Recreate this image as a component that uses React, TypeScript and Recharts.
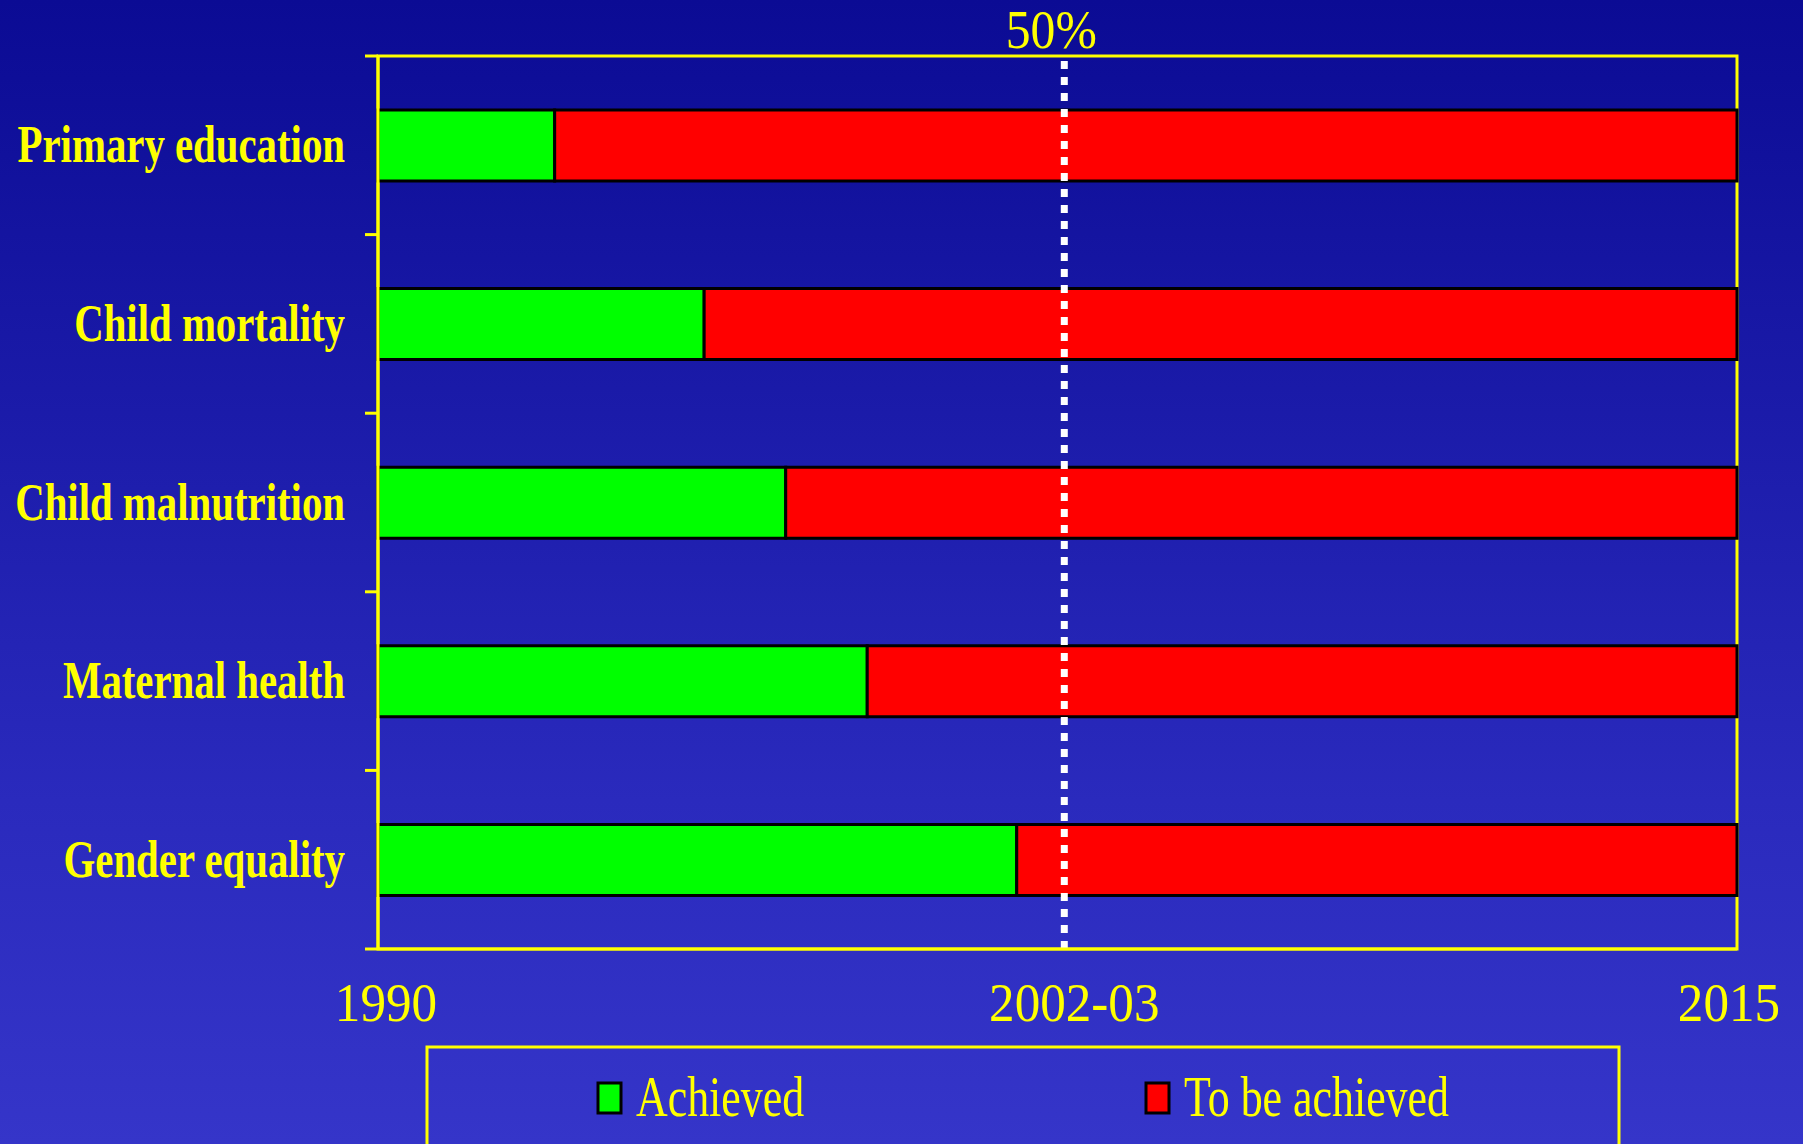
import React from 'react';
import { BarChart, Bar, XAxis, YAxis, ReferenceLine, ReferenceArea } from 'recharts';

const goals = ['Primary education', 'Child mortality', 'Child malnutrition', 'Maternal health', 'Gender equality'];
const achieved = [13, 24, 30, 36, 47];
const toBeAchieved = [87, 76, 70, 64, 53];
const xTicks = [0, 50.5, 100];
const xTickLabels = ['1990', '2002-03', '2015'];
const midpointLabel = '50%';
const seriesNames = ['Achieved', 'To be achieved'];
const seriesColors = ['#00ff00', '#ff0000'];

const data = goals.map((goal, i) => ({ goal, achieved: achieved[i], toBeAchieved: toBeAchieved[i] }));

const W = 1803;
const H = 1144;
const PLOT_LEFT = 378;
const PLOT_TOP = 56;
const PLOT_RIGHT = 1737;
const PLOT_BOTTOM = 949;
const BAND = (PLOT_BOTTOM - PLOT_TOP) / goals.length;
const YELLOW = '#ffff00';
const SERIF = '"Liberation Serif", "Times New Roman", serif';

const GoalTick = (props: any) => {
  const { y, index, payload } = props;
  const top = y - BAND / 2;
  const isLast = index === goals.length - 1;
  return (
    <g>
      <line x1={PLOT_LEFT - 13} x2={PLOT_LEFT} y1={top} y2={top} stroke={YELLOW} strokeWidth={3} />
      {isLast && (
        <line x1={PLOT_LEFT - 13} x2={PLOT_LEFT} y1={y + BAND / 2} y2={y + BAND / 2} stroke={YELLOW} strokeWidth={3} />
      )}
      <text
        transform={`translate(${PLOT_LEFT - 33}, ${y + 17}) scale(0.77, 1)`}
        textAnchor="end"
        fill={YELLOW}
        fontFamily={SERIF}
        fontWeight="bold"
        fontSize={53}
      >
        {payload.value}
      </text>
    </g>
  );
};

const YearTick = (props: any) => {
  const { x, index } = props;
  return (
    <text
      transform={`translate(${x + (index === 0 ? 8 : index === 2 ? -8 : 10)}, ${1021}) scale(0.93, 1)`}
      textAnchor="middle"
      fill={YELLOW}
      fontFamily={SERIF}
      fontSize={55}
    >
      {xTickLabels[index]}
    </text>
  );
};

const FiftyLabel = (props: any) => {
  const vb = props.viewBox || {};
  const x = vb.x ?? 0;
  return (
    <text
      transform={`translate(${x - 13}, ${PLOT_TOP - 8}) scale(0.92, 1)`}
      textAnchor="middle"
      fill={YELLOW}
      fontFamily={SERIF}
      fontSize={54}
    >
      {midpointLabel}
    </text>
  );
};

const LegendBox = () => {
  const items = [
    { name: seriesNames[0], color: seriesColors[0], x: 598 },
    { name: seriesNames[1], color: seriesColors[1], x: 1146 },
  ];
  return (
    <svg width={W} height={H} style={{ position: 'absolute', left: 0, top: 0, pointerEvents: 'none' }}>
      <rect x={427} y={1047} width={1192} height={100} fill="none" stroke={YELLOW} strokeWidth={3} />
      {items.map((it) => (
        <g key={it.name}>
          <rect x={it.x} y={1083} width={23} height={30} fill={it.color} stroke="#000000" strokeWidth={3} />
          <text
            transform={`translate(${it.x + 38}, 1116) scale(0.77, 1)`}
            fill={YELLOW}
            fontFamily={SERIF}
            fontSize={57}
          >
            {it.name}
          </text>
        </g>
      ))}
    </svg>
  );
};

export default function App() {
  return (
    <div
      style={{
        position: 'fixed',
        left: 0,
        top: 0,
        width: W,
        height: H,
        overflow: 'hidden',
        background: 'linear-gradient(to bottom, #0b0b94 0%, #2a2abd 70%, #3535c9 100%)',
      }}
    >
      <BarChart
        width={W}
        height={H}
        data={data}
        layout="vertical"
        barCategoryGap={0}
        margin={{ top: PLOT_TOP, right: W - PLOT_RIGHT, bottom: H - PLOT_BOTTOM - 80, left: 18 }}
      >
        <XAxis
          type="number"
          domain={[0, 100]}
          ticks={xTicks}
          height={80}
          axisLine={{ stroke: YELLOW, strokeWidth: 3 }}
          tickLine={false}
          tick={<YearTick />}
          interval={0}
        />
        <YAxis
          type="category"
          dataKey="goal"
          width={PLOT_LEFT - 18}
          axisLine={{ stroke: YELLOW, strokeWidth: 3 }}
          tickLine={false}
          tick={<GoalTick />}
          interval={0}
        />
        <ReferenceArea x1={0} x2={100} fill="none" stroke={YELLOW} strokeWidth={3} ifOverflow="visible" />
        <Bar dataKey="achieved" name={seriesNames[0]} stackId="a" fill={seriesColors[0]} stroke="#000000" strokeWidth={3} barSize={71} isAnimationActive={false} />
        <Bar dataKey="toBeAchieved" name={seriesNames[1]} stackId="a" fill={seriesColors[1]} stroke="#000000" strokeWidth={3} barSize={71} isAnimationActive={false} />
        <ReferenceLine x={50.5} stroke="#ffffff" strokeWidth={7} strokeDasharray="8 8" label={<FiftyLabel />} ifOverflow="visible" />
      </BarChart>
      <LegendBox />
    </div>
  );
}
